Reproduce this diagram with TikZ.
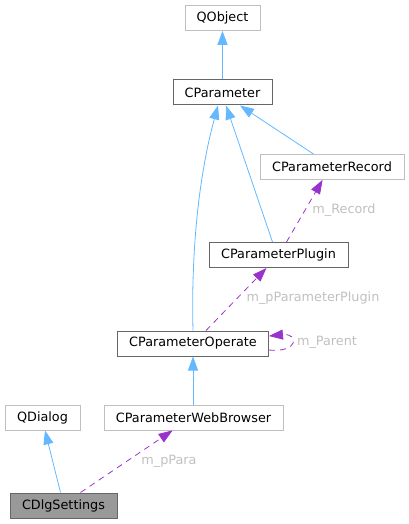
\documentclass[tikz,border=0pt]{standalone}
\usepackage{fontspec}
\setmainfont{DejaVu Sans}
\usetikzlibrary{arrows.meta,calc}
\definecolor{inhblue}{HTML}{63B8FF}
\definecolor{usepurple}{HTML}{9A32CD}
\definecolor{lblgrey}{HTML}{C0C0C0}
\definecolor{undocgrey}{HTML}{BFBFBF}
\definecolor{docgrey}{HTML}{666666}
\definecolor{curfill}{HTML}{999999}
\begin{document}
\begin{tikzpicture}[x=1pt,y=-1pt,
  box/.style={draw=undocgrey, line width=0.8pt, fill=white, minimum height=25pt, inner sep=0pt,
    font=\fontsize{12.8}{15}\selectfont, text=black},
  docbox/.style={box, draw=docgrey, line width=1pt},
  curbox/.style={box, draw=docgrey, fill=curfill, line width=1pt},
  inh/.style={draw=inhblue, line width=0.8pt, -{Triangle[length=14pt,width=10pt]}},
  use/.style={draw=usepurple, line width=0.8pt, dash pattern=on 6pt off 5pt, -{Triangle[length=14pt,width=10pt]}},
  lbl/.style={font=\fontsize{12.8}{15}\selectfont, text=lblgrey, inner sep=0pt}]
\useasboundingbox (0,0) rectangle (409,524);
\node[box, minimum width=75pt] (qobj) at (222.5,18) {QObject};
\node[docbox, minimum width=99pt] (par) at (222.5,92.5) {CParameter};
\node[box, minimum width=144pt] (rec) at (332,167) {CParameterRecord};
\node[docbox, minimum width=139pt] (plug) at (278.5,255) {CParameterPlugin};
\node[docbox, minimum width=151pt] (op) at (193,343.5) {CParameterOperate};
\node[box, minimum width=75pt] (qdlg) at (42.5,417.5) {QDialog};
\node[box, minimum width=179pt] (web) at (193.5,417.5) {CParameterWebBrowser};
\node[curbox, minimum width=107pt] (dlg) at (63.5,505.5) {CDlgSettings};
% inheritance
\draw[inh] (par.north) -- (qobj.south);
\draw[inh] ($(rec.north west)+(54,0)$) -- ($(par.south)+(17.5,0)$);
\draw[inh] ($(plug.north west)+(64,0)$) -- ($(par.south)+(3.5,0)$);
\draw[inh] (op.north) .. controls (191,250) and (199,175) .. ($(par.south)+(-4.5,0)$);
\draw[inh] (web.north -| op.north) -- (op.south);
\draw[inh] ($(dlg.north west)+(51,0)$) -- ($(qdlg.south)+(2.5,0)$);
% usage
\draw[use] ($(plug.north west)+(78,0)$) -- ($(rec.south west)+(63,0)$);
\node[lbl] (lrec) at (344,210) {m\_Record};
\draw[use] ($(op.north)+(13,0)$) -- ($(plug.south west)+(58,0)$);
\node[lbl] (lplug) at (313,298) {m\_pParameterPlugin};
\draw[use] ($(op.east)+(0,6.5)$) .. controls (299,353) and (299,333) .. ($(op.east)+(0,-7.5)$);
\node[lbl] (lpar) at (327,342) {m\_Parent};
\draw[use] ($(dlg.north west)+(71,0)$) -- ($(web.south west)+(69,0)$);
\node[lbl] (lpp) at (169,461) {m\_pPara};
\end{tikzpicture}
\end{document}
